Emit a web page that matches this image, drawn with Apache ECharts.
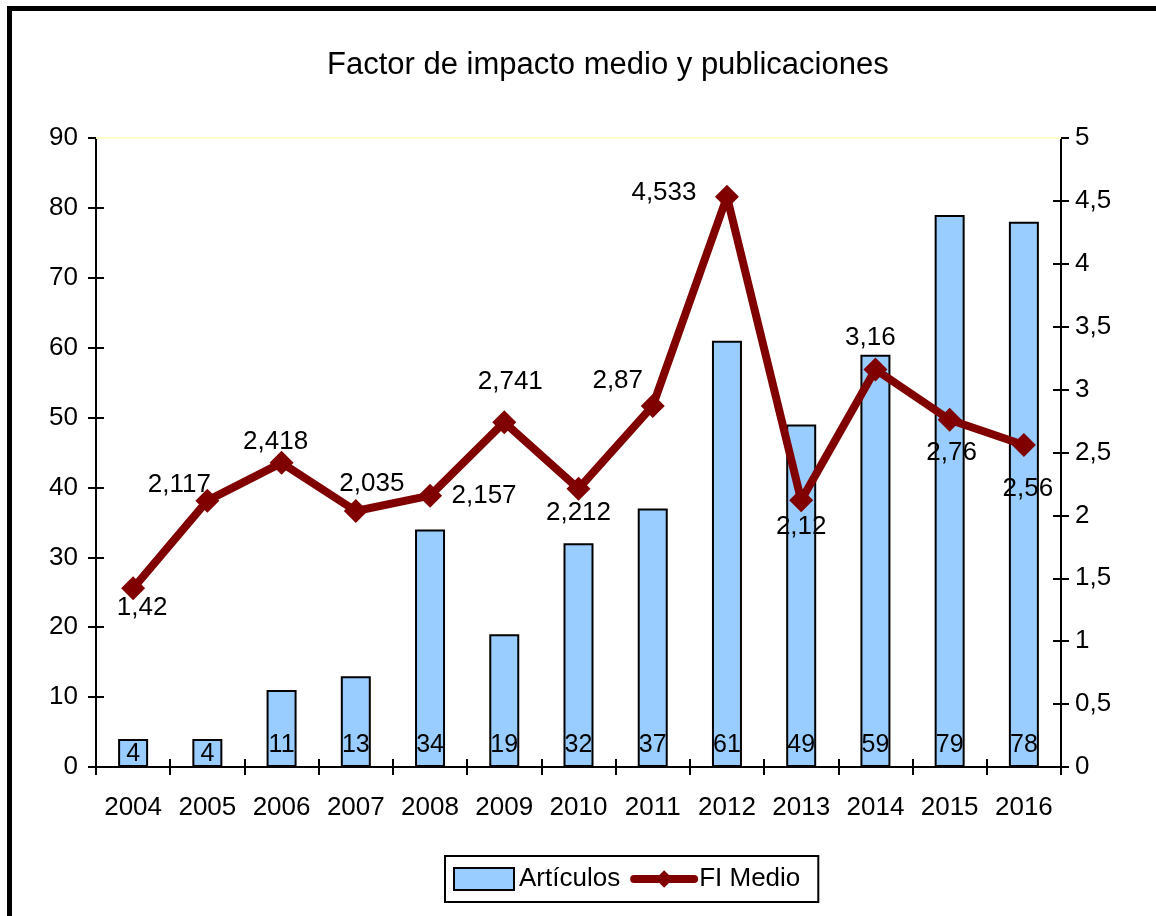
<!DOCTYPE html>
<html><head><meta charset="utf-8">
<script src="https://cdn.jsdelivr.net/npm/echarts@6/dist/echarts.min.js"></script>
<style>html,body{margin:0;padding:0;background:#fff}#c{width:1156px;height:916px}</style>
</head><body><div id="c"></div>
<script>
const years = ['2004','2005','2006','2007','2008','2009','2010','2011','2012','2013','2014','2015','2016'];
const articulos = [4,4,11,13,34,19,32,37,61,49,59,79,78];
const fiMedio = [1.42,2.117,2.418,2.035,2.157,2.741,2.212,2.87,4.533,2.12,3.16,2.76,2.56];
const leftTicks = {min:0,max:90,interval:10};
const rightTicks = {min:0,max:5,interval:0.5};

// label placement (style only)
const lineLabelOffsets = [[9,19],[-28,-16],[-6,-21],[16,-27],[54,0],[6,-40],[0,24],[-35,-25],[-63,-4],[0,27],[-5,-32],[2,33],[4,44]];

const FONT = 'Liberation Sans';
const FS = 26;
const fmt = v => String(v).replace('.', ',');
const chart = echarts.init(document.getElementById('c'), null, {renderer:'canvas'});

const lineData = fiMedio.map((v,i)=>({value:v, label:{offset:lineLabelOffsets[i]}}));
const barData = articulos.map(v=>({value:v, label:{distance: v<10 ? 0 : 9}}));

const tickStyle = {lineStyle:{color:'#000',width:2}, length:8};
chart.setOption({
  animation:false,
  textStyle:{fontFamily:FONT},
  title:{text:'Factor de impacto medio y publicaciones', left:322, top:45,
    textStyle:{fontFamily:FONT,fontSize:31,fontWeight:'normal',color:'#000'}},
  grid:{left:96,right:95,top:138,bottom:149},
  legend:{bottom:14, left:445, itemWidth:60, itemHeight:22, itemGap:10,
    borderColor:'#000', borderWidth:2, padding:[10,18,10,8],
    textStyle:{fontFamily:FONT,fontSize:FS,color:'#000'},
    data:[{name:'Artículos', icon:'rect'},
          {name:'FI Medio', lineStyle:{width:8,color:'#800000',cap:'round'}}]},
  xAxis:[
    {type:'category', data:years, position:'bottom',
     axisLine:{lineStyle:{color:'#000',width:2}},
     axisTick:Object.assign({show:true,inside:false,interval:0},tickStyle),
     axisLabel:{fontFamily:FONT,fontSize:FS,color:'#000',margin:28,interval:0}},
    {type:'category', data:years, position:'bottom',
     axisLine:{show:false},
     axisTick:Object.assign({show:true,inside:true,interval:0},tickStyle),
     axisLabel:{show:false}}
  ],
  yAxis:[
    {type:'value', position:'left', min:leftTicks.min, max:leftTicks.max, interval:leftTicks.interval,
     axisLine:{show:true,lineStyle:{color:'#000',width:2}},
     axisTick:Object.assign({show:true,inside:false},tickStyle),
     splitLine:{show:false},
     axisLabel:{fontFamily:FONT,fontSize:FS,color:'#000',margin:18}},
    {type:'value', position:'left', min:leftTicks.min, max:leftTicks.max, interval:leftTicks.interval,
     axisLine:{show:false}, axisTick:Object.assign({show:true,inside:true},tickStyle),
     splitLine:{show:false}, axisLabel:{show:false}},
    {type:'value', position:'right', min:rightTicks.min, max:rightTicks.max, interval:rightTicks.interval,
     axisLine:{show:true,lineStyle:{color:'#000',width:2}},
     axisTick:Object.assign({show:true,inside:false},tickStyle),
     splitLine:{show:false},
     axisLabel:{fontFamily:FONT,fontSize:FS,color:'#000',margin:14,formatter:v=>fmt(v)}},
    {type:'value', position:'right', min:rightTicks.min, max:rightTicks.max, interval:rightTicks.interval,
     axisLine:{show:false}, axisTick:Object.assign({show:true,inside:true},tickStyle),
     splitLine:{show:false}, axisLabel:{show:false}}
  ],
  series:[
    {name:'Artículos', type:'bar', xAxisIndex:0, yAxisIndex:0, data:barData, barWidth:30,
     itemStyle:{color:'#99CCFF', borderColor:'#000', borderWidth:2},
     label:{show:true, position:'insideBottom', fontFamily:FONT, fontSize:25, color:'#000'},
     markLine:{silent:true, symbol:'none', label:{show:false},
       lineStyle:{color:'#ffffcc',type:'solid',width:2}, data:[{yAxis:leftTicks.max}]},
     z:2},
    {name:'FI Medio', type:'line', xAxisIndex:0, yAxisIndex:2, data:lineData,
     symbol:'diamond', symbolSize:24,
     lineStyle:{color:'#800000', width:8},
     itemStyle:{color:'#800000'},
     label:{show:true, position:'inside', fontFamily:FONT, fontSize:FS, color:'#000',
       formatter:p=>fmt(p.value)},
     z:3}
  ],
  graphic:[
    {type:'line', shape:{x1:7,y1:8.5,x2:1156,y2:8.5}, style:{stroke:'#000',lineWidth:5}},
    {type:'line', shape:{x1:9.5,y1:6,x2:9.5,y2:916}, style:{stroke:'#000',lineWidth:5}}
  ]
});
</script></body></html>
